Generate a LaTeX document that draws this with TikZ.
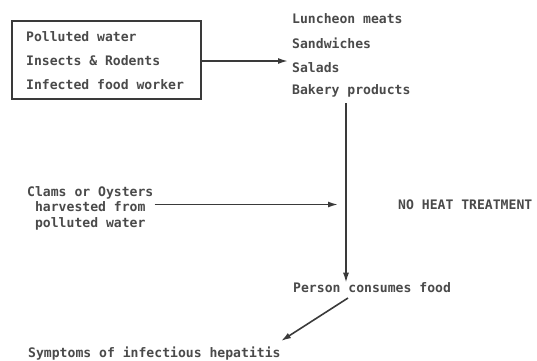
\documentclass[tikz,border=0pt]{standalone}
\usepackage{fontspec}
\setmainfont{DejaVu Sans Mono}
\usetikzlibrary{arrows.meta}
\definecolor{ink}{HTML}{3A3A3A}
\definecolor{tink}{HTML}{4A4A4A}
\begin{document}
\begin{tikzpicture}[x=1pt,y=-1pt,
  txt/.style={inner sep=0pt,text=tink,font=\fontsize{13.1}{15.5}\selectfont\bfseries},
  conn/.style={draw=ink,line width=1.6pt},
  arr/.style={conn,-{Latex[length=10pt,width=6pt]}}]
\useasboundingbox (0,0) rectangle (537,360);
% source box
\node[draw=ink,line width=1.6pt,minimum width=189pt,minimum height=78pt,inner sep=0pt] (box) at (106.5,60) {};
\node[txt,anchor=west] (pw) at (26,37) {Polluted water};
\node[txt,anchor=west] (ir) at (26,61) {Insects \& Rodents};
\node[txt,anchor=west] (ifw) at (26,85) {Infected food worker};
% food list
\node[txt,anchor=west] (lm) at (292,19) {Luncheon meats};
\node[txt,anchor=west] (sw) at (292,43) {Sandwiches};
\node[txt,anchor=west] (sal) at (292,68) {Salads};
\node[txt,anchor=west] (bp) at (292,91) {Bakery products};
\draw[arr,shorten >=4pt] ([yshift=-1]box.east) -- ([yshift=-1]box.east -| sal.west);
% clams
\node[txt,align=center,anchor=west] (clams) at (27,208) {Clams or Oysters\\harvested from\\polluted water};
\node[txt,anchor=west] (nht) at (398,205) {NO HEAT TREATMENT};
% consumer
\node[txt,anchor=west] (person) at (293,288) {Person consumes food};
\node[txt,anchor=west] (sym) at (28,354) {Symptoms of infectious hepatitis};
% vertical flow
\coordinate (vtop) at (346,103);
\draw[arr] (vtop) -- (vtop |- person.north);
\draw[arr,shorten >=8pt,shorten <=1pt] ([yshift=3.5]clams.east) -- ([yshift=3.5]clams.east -| vtop);
% diagonal
\coordinate (dstart) at (348,298);
\coordinate (dend) at (281,341);
\draw[arr] (dstart) -- (dend);
\end{tikzpicture}
\end{document}
